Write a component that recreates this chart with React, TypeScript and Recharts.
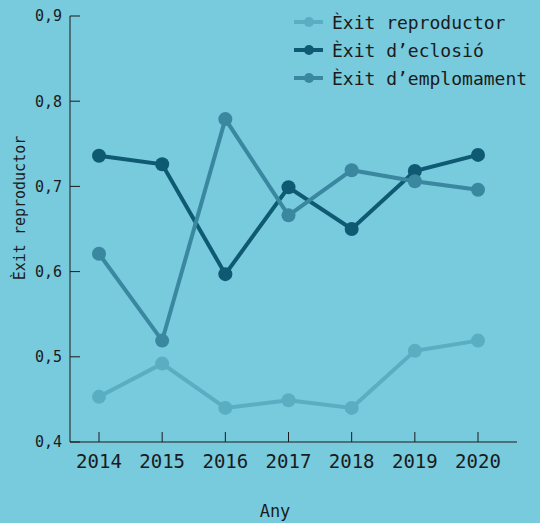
import { LineChart, Line, XAxis, YAxis, Legend } from "recharts";

const years = [2014, 2015, 2016, 2017, 2018, 2019, 2020];
const reproductor = [0.453, 0.492, 0.44, 0.449, 0.44, 0.507, 0.519];
const eclosio = [0.736, 0.726, 0.597, 0.699, 0.65, 0.718, 0.737];
const emplomament = [0.621, 0.519, 0.779, 0.666, 0.719, 0.706, 0.696];
const yTicks = [0.4, 0.5, 0.6, 0.7, 0.8, 0.9];

const series = [
  { key: "reproductor", name: "Èxit reproductor", color: "#5aaec2" },
  { key: "eclosio", name: "Èxit d’eclosió", color: "#0e5a72" },
  { key: "emplomament", name: "Èxit d’emplomament", color: "#3a88a0" },
];

const data = years.map((year, i) => ({
  year,
  reproductor: reproductor[i],
  eclosio: eclosio[i],
  emplomament: emplomament[i],
}));

const FONT = "'DejaVu Sans Mono', monospace";
const INK = "#1b1b1b";

// legend drawn by hand: line + dot, mono text
const renderLegend = () => (
  <div style={{ fontFamily: FONT, fontSize: 18, color: INK }}>
    {series.map((s) => (
      <div key={s.key} style={{ display: "flex", alignItems: "center", height: 28 }}>
        <svg width={40} height={14}>
          <line x1={2} y1={7} x2={31} y2={7} stroke={s.color} strokeWidth={4} />
          <circle cx={17} cy={7} r={5} fill={s.color} />
        </svg>
        <span>{s.name}</span>
      </div>
    ))}
  </div>
);

const App = () => {
  return (
    <div
      style={{
        position: "absolute",
        left: 0,
        top: 0,
        width: 540,
        height: 523,
        background: "#78cadd",
      }}
    >
      <LineChart
        width={540}
        height={523}
        data={data}
        margin={{ top: 16, right: 23, left: 0, bottom: 0 }}
      >
        <XAxis
          dataKey="year"
          height={81}
          padding={{ left: 29, right: 39 }}
          stroke={INK}
          tickSize={-10}
          tickMargin={23}
          tick={{ fill: INK, fontSize: 19, fontFamily: FONT }}
          label={{
            content: () => (
              <text x={275} y={517} textAnchor="middle" fill={INK} fontSize={17} fontFamily={FONT}>
                Any
              </text>
            ),
          }}
        />
        <YAxis
          width={70}
          domain={[0.4, 0.9]}
          ticks={yTicks}
          stroke={INK}
          tickSize={-10}
          tickMargin={18}
          tickFormatter={(v: number) => v.toFixed(1).replace(".", ",")}
          tick={{ fill: INK, fontSize: 15, fontFamily: FONT }}
          label={{
            content: () => (
              <text
                x={20}
                y={208}
                transform="rotate(-90 20 208)"
                textAnchor="middle"
                dominantBaseline="central"
                fill={INK}
                fontSize={15}
                fontFamily={FONT}
              >
                Èxit reproductor
              </text>
            ),
          }}
        />
        <Legend
          layout="horizontal"
          verticalAlign="middle"
          align="center"
          content={renderLegend}
          wrapperStyle={{ top: 8, left: 292, width: 248 }}
        />
        {series.map((s) => (
          <Line
            key={s.key}
            dataKey={s.key}
            name={s.name}
            stroke={s.color}
            strokeWidth={4}
            dot={{ r: 7, fill: s.color, stroke: s.color, strokeWidth: 0 }}
            activeDot={false}
            isAnimationActive={false}
          />
        ))}
      </LineChart>
    </div>
  );
};

export default App;
